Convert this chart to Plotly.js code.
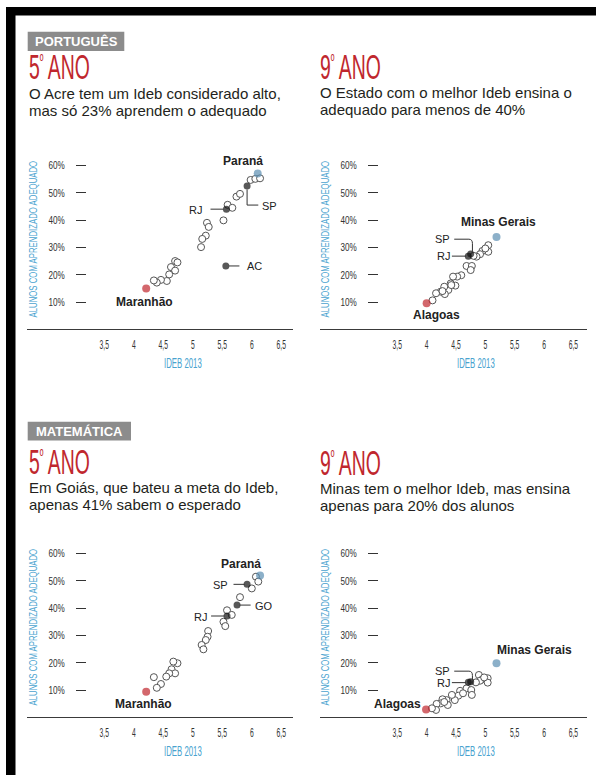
<!DOCTYPE html>
<html><head><meta charset="utf-8">
<script src="https://cdn.plot.ly/plotly-3.0.1.min.js"></script>
<style>html,body{margin:0;padding:0;background:#fff}#chart{width:596px;height:775px}</style>
</head><body><div id="chart"></div>
<script>
// ---------- DATA ----------
const xTickVals = [3.5, 4, 4.5, 5, 5.5, 6, 6.5];
const xTickText = ['3,5', '4', '4,5', '5', '5,5', '6', '6,5'];
const yTickVals = [10, 20, 30, 40, 50, 60];
const yTickText = ['10%', '20%', '30%', '40%', '50%', '60%'];

// Português 5º ano
const por5OpenX = [5.98, 6.06, 6.14, 5.74, 5.80, 5.59, 5.67, 5.52, 5.24, 5.27, 5.22, 5.16, 5.14, 4.70, 4.74, 4.63, 4.70, 4.60, 4.56, 4.46, 4.39, 4.34];
const por5OpenY = [54.7, 55.1, 55.3, 48.6, 49.6, 45.6, 44.5, 39.9, 39.0, 37.5, 34.3, 33.1, 30.1, 25.0, 24.5, 22.8, 21.5, 20.1, 17.7, 18.1, 17.1, 17.9];
const por5KeyNames = ['Paraná', 'SP', 'RJ', 'AC', 'Maranhão'];
const por5KeyX = [6.10, 5.92, 5.57, 5.56, 4.21];
const por5KeyY = [57.1, 52.5, 44.0, 23.2, 14.9];

// Português 9º ano
const por9OpenX = [5.05, 5.05, 4.95, 4.91, 4.85, 4.68, 4.77, 4.75, 4.59, 4.52, 4.45, 4.49, 4.41, 4.37, 4.30, 4.31, 4.24, 4.16, 4.10, 4.80, 5.00, 4.27, 4.42];
const por9OpenY = [30.8, 28.4, 28.7, 27.5, 26.6, 23.2, 23.2, 21.7, 19.8, 19.3, 19.3, 16.0, 16.8, 14.4, 15.6, 12.9, 13.8, 13.2, 10.6, 26.9, 29.6, 14.0, 16.2];
const por9KeyNames = ['Minas Gerais', 'SP', 'RJ', 'Alagoas'];
const por9KeyX = [5.19, 4.75, 4.71, 4.00];
const por9KeyY = [33.8, 27.6, 26.8, 9.5];

// Matemática 5º ano
const mat5OpenX = [6.07, 6.11, 6.00, 5.80, 5.58, 5.66, 5.52, 5.55, 5.26, 5.25, 5.22, 5.15, 5.18, 4.74, 4.67, 4.64, 4.70, 4.60, 4.55, 4.46, 4.39, 4.34];
const mat5OpenY = [51.5, 49.7, 47.2, 44.0, 39.2, 37.5, 35.0, 33.4, 31.6, 29.5, 28.3, 26.5, 24.9, 19.8, 20.4, 17.6, 16.1, 16.1, 14.9, 12.2, 10.8, 14.7];
const mat5KeyNames = ['Paraná', 'SP', 'GO', 'RJ', 'Maranhão'];
const mat5KeyX = [6.14, 5.92, 5.75, 5.58, 4.21];
const mat5KeyY = [51.9, 48.7, 41.1, 37.1, 9.4];

// Matemática 9º ano
const mat9OpenX = [4.89, 4.95, 5.04, 5.04, 4.91, 4.84, 4.68, 4.76, 4.77, 4.57, 4.54, 4.48, 4.43, 4.34, 4.36, 4.27, 4.24, 4.17, 4.16, 4.09, 4.62, 4.30, 4.98];
const mat9OpenY = [15.5, 13.9, 14.3, 12.7, 13.4, 12.8, 10.6, 10.0, 8.2, 9.7, 7.9, 6.3, 8.2, 6.3, 4.5, 6.6, 5.1, 4.9, 2.7, 3.3, 8.8, 5.6, 14.6];
const mat9KeyNames = ['Minas Gerais', 'SP', 'RJ', 'Alagoas'];
const mat9KeyX = [5.19, 4.75, 4.71, 3.99];
const mat9KeyY = [19.8, 13.0, 12.8, 2.9];

// ---------- STYLE / LAYOUT ----------
const W = 596, H = 775;
const PX = x => x / W;
const PY = y => 1 - y / H;
const SANS = '"Liberation Sans", Arial, sans-serif';
const TEAL = '#4aa3cf';
const RED = '#c0272e';
const BLUE = '#5b8fb2';
const INK = '#222';
const YTITLE = 'ALUNOS COM APRENDIZADO ADEQUADO';

const panels = [
  {id: '', xd: [26.7, 293.4], yd: [149.1, 329.3], ypos: 86, xr: [2.185, 6.705],
   ox: por5OpenX, oy: por5OpenY, kn: por5KeyNames, kx: por5KeyX, ky: por5KeyY, best: 'Paraná', worst: 'Maranhão'},
  {id: '2', xd: [320, 586.7], yd: [149.1, 329.3], ypos: 378, xr: [2.183, 6.727],
   ox: por9OpenX, oy: por9OpenY, kn: por9KeyNames, kx: por9KeyX, ky: por9KeyY, best: 'Minas Gerais', worst: 'Alagoas'},
  {id: '3', xd: [26.7, 293.4], yd: [537.1, 717.3], ypos: 86, xr: [2.185, 6.705],
   ox: mat5OpenX, oy: mat5OpenY, kn: mat5KeyNames, kx: mat5KeyX, ky: mat5KeyY, best: 'Paraná', worst: 'Maranhão'},
  {id: '4', xd: [320, 586.7], yd: [537.1, 717.3], ypos: 378, xr: [2.183, 6.727],
   ox: mat9OpenX, oy: mat9OpenY, kn: mat9KeyNames, kx: mat9KeyX, ky: mat9KeyY, best: 'Minas Gerais', worst: 'Alagoas'}
];

const data = [];
const layout = {
  width: W, height: H, margin: {l: 0, r: 0, t: 0, b: 0},
  paper_bgcolor: '#fff', plot_bgcolor: 'rgba(0,0,0,0)',
  showlegend: false, hovermode: false,
  font: {family: SANS, color: INK},
  annotations: [], shapes: []
};

panels.forEach(p => {
  const xa = 'x' + p.id, ya = 'y' + p.id;
  data.push({type: 'scatter', mode: 'markers', x: p.ox, y: p.oy, xaxis: xa, yaxis: ya,
    marker: {size: 7, color: '#fff', line: {color: '#555', width: 1}}, cliponaxis: false});
  const colors = p.kn.map(n => n === p.best ? BLUE : (n === p.worst ? RED : '#111'));
  const sizes = p.kn.map(n => (n === p.best || n === p.worst) ? 8 : 7);
  data.push({type: 'scatter', mode: 'markers', x: p.kx, y: p.ky, xaxis: xa, yaxis: ya, text: p.kn,
    marker: {size: sizes, color: colors, line: {width: 0}}, cliponaxis: false});

  layout['xaxis' + p.id] = {
    domain: [PX(p.xd[0]), PX(p.xd[1])], range: p.xr, anchor: ya,
    showline: true, linecolor: '#3a3a3a', linewidth: 1, showgrid: false, zeroline: false,
    tickvals: xTickVals, ticktext: xTickText, ticks: '', ticklabelstandoff: 3,
    tickfont: {family: SANS, size: 13, color: '#333'}, fixedrange: true
  };
  layout['yaxis' + p.id] = {
    domain: [PY(p.yd[1]), PY(p.yd[0])], range: [0, 66], anchor: 'free', position: PX(p.ypos),
    showline: false, showgrid: false, zeroline: false,
    ticks: 'outside', ticklen: 10, tickwidth: 1, tickcolor: '#333',
    tickvals: yTickVals, ticktext: yTickText, ticklabelstandoff: 9,
    tickfont: {family: SANS, size: 11, color: '#333'},
    title: {text: YTITLE, font: {family: SANS, size: 10, color: TEAL}, standoff: 2},
    fixedrange: true
  };
  // x axis title (sits right of the axis centre, as in the original)
  layout.annotations.push({xref: 'paper', yref: 'paper', x: PX((p.xd[0] + p.xd[1]) / 2 + 23), y: PY(p.yd[1] + 34),
    xanchor: 'center', yanchor: 'middle', showarrow: false, text: 'IDEB 2013',
    font: {family: SANS, size: 14, color: TEAL}});
});

// ---------- LABELS AND LEADERS ----------
function lab(id, text, x, y, xanchor, bold, size) {
  layout.annotations.push({xref: 'x' + id, yref: 'y' + id, x, y, xanchor, yanchor: 'middle', showarrow: false,
    text: bold ? '<b>' + text + '</b>' : text, borderpad: 0,
    font: {family: SANS, size: size || (bold ? 12 : 11), color: INK}});
}
function lead(id, path) {
  layout.shapes.push({type: 'path', xref: 'x' + id, yref: 'y' + id, path, line: {color: '#333', width: 1}});
}
// panel 1
lab('', por5KeyNames[0], 5.85, 61.8, 'center', true);
lab('', por5KeyNames[4], 4.18, 9.9, 'center', true);
lab('', por5KeyNames[2], 5.18, 43.8, 'right');
lead('', 'M 5.30 44.0 L 5.52 44.0');
lab('', por5KeyNames[1], 6.16, 45.3, 'left');
lead('', 'M 5.92 51.2 L 5.92 45.5 L 6.11 45.5');
lab('', por5KeyNames[3], 5.91, 23.2, 'left');
lead('', 'M 5.61 23.2 L 5.79 23.2');
// panel 2
lab('2', por9KeyNames[0], 5.22, 39.4, 'center', true);
lab('2', por9KeyNames[3], 4.17, 5.2, 'center', true);
lab('2', por9KeyNames[1], 4.41, 33.0, 'right');
lead('2', 'M 4.47 33.0 L 4.72 33.0 Q 4.78 33.0 4.78 31.4 L 4.78 28.4');
lab('2', por9KeyNames[2], 4.41, 26.8, 'right');
lead('2', 'M 4.43 26.8 L 4.67 26.8');
// panel 3
lab('3', mat5KeyNames[0], 5.81, 56.0, 'center', true);
lab('3', mat5KeyNames[4], 4.17, 4.9, 'center', true);
lab('3', mat5KeyNames[1], 5.62, 48.6, 'right');
lead('3', 'M 5.69 48.7 L 5.88 48.7');
lab('3', mat5KeyNames[2], 6.04, 40.9, 'left');
lead('3', 'M 5.79 41.1 L 5.98 41.1');
lab('3', mat5KeyNames[3], 5.265, 36.9, 'right');
lead('3', 'M 5.31 37.1 L 5.54 37.1');
// panel 4
lab('4', mat9KeyNames[0], 5.83, 24.6, 'center', true);
lab('4', mat9KeyNames[3], 3.50, 4.8, 'center', true);
lab('4', mat9KeyNames[1], 4.41, 16.9, 'right');
lead('4', 'M 4.47 16.9 L 4.72 16.9 Q 4.78 16.9 4.78 15.3 L 4.78 13.7');
lab('4', mat9KeyNames[2], 4.41, 12.7, 'right');
lead('4', 'M 4.43 12.7 L 4.67 12.7');

// ---------- HEADERS ----------
function ptext(text, x, y, xanchor, font) {
  layout.annotations.push({xref: 'paper', yref: 'paper', x: PX(x), y: PY(y), xanchor, yanchor: 'middle',
    showarrow: false, text, borderpad: 0, align: 'left', font});
}
function rect(x0, y0, x1, y1, color) {
  layout.shapes.push({type: 'rect', xref: 'paper', yref: 'paper', x0: PX(x0), x1: PX(x1), y0: PY(y1), y1: PY(y0),
    fillcolor: color, line: {width: 0}, layer: 'below'});
}
// frame
rect(6, 7, 596, 15.5, '#000');
rect(6, 7, 15.5, 775, '#000');
// section tags
rect(27.7, 31.7, 124.3, 51, '#8c8c8c');
ptext('<b>PORTUGUÊS</b>', 76, 41.4, 'center', {family: SANS, size: 13, color: '#fff'});
rect(27.7, 421.7, 131, 440.5, '#8c8c8c');
ptext('<b>MATEMÁTICA</b>', 79.3, 431.1, 'center', {family: SANS, size: 13, color: '#fff'});
// big titles
const TF = {family: SANS, size: 35, color: RED};
ptext('5º ANO', 27.7, 67.0, 'left', TF);
ptext('9º ANO', 319.3, 66.5, 'left', TF);
ptext('5º ANO', 27.7, 462.0, 'left', TF);
ptext('9º ANO', 319.3, 462.5, 'left', TF);
// subtitles (two lines each, spacing tightened after drawing)
const SF = {family: SANS, size: 15, color: '#231f20'};
ptext('O Acre tem um Ideb considerado alto,<br>mas só 23% aprendem o adequado', 27.7, 93.2 + 10, 'left', SF);
ptext('O Estado com o melhor Ideb ensina o<br>adequado para menos de 40%', 319.3, 92.9 + 10, 'left', SF);
ptext('Em Goiás, que bateu a meta do Ideb,<br>apenas 41% sabem o esperado', 27.7, 487.4 + 10, 'left', SF);
ptext('Minas tem o melhor Ideb, mas ensina<br>apenas para 20% dos alunos', 319.3, 488.4 + 10, 'left', SF);

function condense(el, k, where) {
  const b = el.getBBox();
  const cx = where === 'start' ? b.x : (where === 'end' ? b.x + b.width : b.x + b.width / 2);
  const t = el.getAttribute('transform') || '';
  el.setAttribute('transform', (t + ' translate(' + cx + ' 0) scale(' + k + ' 1) translate(' + (-cx) + ' 0)').trim());
}

Plotly.newPlot('chart', data, layout, {staticPlot: true, displayModeBar: false}).then(gd => {
  const NS = 'http://www.w3.org/2000/svg';
  gd.querySelectorAll('.annotation-text').forEach(t => {
    const s = t.textContent;
    if (/ANO$/.test(s)) {
      // small raised ordinal, then condense like the original's compressed display face
      const parts = s.split('º');
      while (t.firstChild) t.removeChild(t.firstChild);
      const a = document.createElementNS(NS, 'tspan'); a.textContent = parts[0];
      const o = document.createElementNS(NS, 'tspan'); o.textContent = 'º';
      o.setAttribute('dy', '-12'); o.setAttribute('font-size', '18');
      const r = document.createElementNS(NS, 'tspan'); r.textContent = parts[1];
      r.setAttribute('dy', '12');
      t.appendChild(a); t.appendChild(o); t.appendChild(r);
      condense(t, 0.555, 'start');
    } else if (s === 'IDEB 2013') {
      condense(t, 0.56, 'middle');
    } else {
      const lines = t.querySelectorAll('tspan.line');
      if (lines.length > 1) lines[1].setAttribute('dy', '1.13em');
    }
  });
  gd.querySelectorAll('g').forEach(g => {
    const c = g.getAttribute('class') || '';
    if (/^x\d*tick$/.test(c)) g.querySelectorAll('text').forEach(t => condense(t, 0.52, 'middle'));
    if (/^y\d*tick$/.test(c)) g.querySelectorAll('text').forEach(t => condense(t, 0.74, 'end'));
  });
  gd.querySelectorAll('text').forEach(t => { if (t.textContent === YTITLE) condense(t, 0.78, 'middle'); });
});
</script>
</body></html>
